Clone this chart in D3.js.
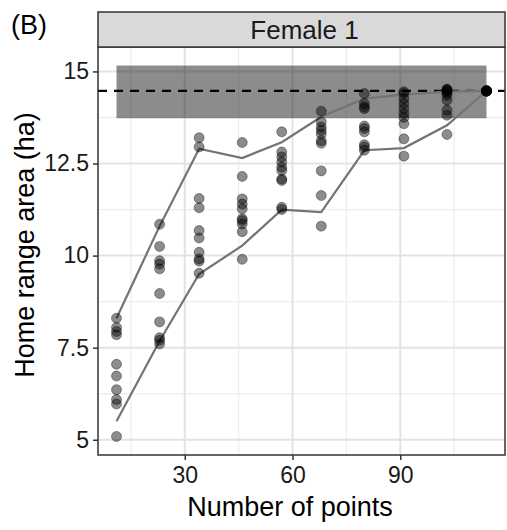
<!DOCTYPE html>
<html>
<head>
<meta charset="utf-8">
<script src="https://cdn.jsdelivr.net/npm/d3@7"></script>
<style>
  body { margin: 0; background: #fff; }
  svg { font-family: "Liberation Sans", Arial, sans-serif; }
</style>
</head>
<body>
<svg id="chart" width="507" height="530"></svg>
<script>
// sample sizes (number of points) along x
const sampleSizes = [11, 23, 34, 46, 57, 68, 80, 91, 103, 114]

// home range estimates, 10 resamples per sample size
const col11 = [8.3, 8.05, 7.94, 7.85, 7.05, 6.73, 6.36, 6.09, 5.97, 5.09]
const col23 = [10.85, 10.25, 9.86, 9.77, 9.64, 8.97, 8.2, 7.77, 7.7, 7.6]
const col34 = [13.2, 12.95, 11.55, 11.3, 10.68, 10.48, 10.09, 9.91, 9.85, 9.52]
const col46 = [13.07, 12.15, 11.54, 11.4, 11.27, 11.0, 10.95, 10.86, 10.65, 9.9]
const col57 = [13.36, 12.81, 12.68, 12.54, 12.4, 12.31, 12.08, 12.04, 11.31, 11.25]
const col68 = [13.92, 13.63, 13.49, 13.4, 13.3, 13.12, 13.05, 12.3, 11.63, 10.8]
const col80 = [14.4, 14.13, 14.04, 13.99, 13.52, 13.45, 13.36, 13.01, 12.95, 12.86]
const col91 = [14.45, 14.4, 14.26, 14.13, 13.99, 13.86, 13.75, 13.58, 13.17, 12.7]
const col103 = [14.52, 14.5, 14.48, 14.45, 14.42, 14.35, 14.22, 13.95, 13.81, 13.29]
const col114 = [14.47, 14.47, 14.47, 14.47, 14.47, 14.47, 14.47, 14.47, 14.47, 14.47]
const estimates = [col11, col23, col34, col46, col57, col68, col80, col91, col103, col114]

// envelope lines
const upperLine = [8.3, 10.8, 12.9, 12.65, 13.08, 13.77, 14.26, 14.37, 14.45, 14.47]
const lowerLine = [5.5, 7.68, 9.5, 10.27, 11.25, 11.18, 12.86, 12.92, 13.54, 14.47]

// full-data estimate and its band
const fullEstimate = 14.47
const bandLow = 13.73
const bandHigh = 15.16

const xTicks = [30, 60, 90]
const xMinor = [15, 45, 75, 105]
const yTicks = [5, 7.5, 10, 12.5, 15]
const yMinor = [6.25, 8.75, 11.25, 13.75]
const yTickLabels = ['5', '7.5', '10', '12.5', '15']

const panel = {left: 98, right: 505, top: 47, bottom: 455}
const strip = {top: 12, bottom: 47}

const svg = d3.select('#chart')

const xMin = d3.min(sampleSizes)
const xMax = d3.max(sampleSizes)
const xPad = (xMax - xMin) * 0.05
const x = d3.scaleLinear()
  .domain([xMin - xPad, xMax + xPad])
  .range([panel.left, panel.right])

const yLo = d3.min(estimates.flat())
const yHi = bandHigh
const yPad = (yHi - yLo) * 0.05
const y = d3.scaleLinear()
  .domain([yLo - yPad, yHi + yPad])
  .range([panel.bottom, panel.top])

// panel background
svg.append('rect')
  .attr('x', panel.left)
  .attr('y', panel.top)
  .attr('width', panel.right - panel.left)
  .attr('height', panel.bottom - panel.top)
  .attr('fill', '#fff')

// gridlines
const grid = svg.append('g')
grid.selectAll('.ymin').data(yMinor).enter().append('line')
  .attr('x1', panel.left).attr('x2', panel.right)
  .attr('y1', d => y(d)).attr('y2', d => y(d))
  .attr('stroke', '#eeeeee').attr('stroke-width', 1.3)
grid.selectAll('.xmin').data(xMinor).enter().append('line')
  .attr('y1', panel.top).attr('y2', panel.bottom)
  .attr('x1', d => x(d)).attr('x2', d => x(d))
  .attr('stroke', '#eeeeee').attr('stroke-width', 1.3)
grid.selectAll('.ymaj').data(yTicks).enter().append('line')
  .attr('x1', panel.left).attr('x2', panel.right)
  .attr('y1', d => y(d)).attr('y2', d => y(d))
  .attr('stroke', '#e3e3e3').attr('stroke-width', 2)
grid.selectAll('.xmaj').data(xTicks).enter().append('line')
  .attr('y1', panel.top).attr('y2', panel.bottom)
  .attr('x1', d => x(d)).attr('x2', d => x(d))
  .attr('stroke', '#e3e3e3').attr('stroke-width', 2)

// band around the full-data estimate
svg.append('rect')
  .attr('x', x(xMin))
  .attr('width', x(xMax) - x(xMin))
  .attr('y', y(bandHigh))
  .attr('height', y(bandLow) - y(bandHigh))
  .attr('fill', '#000')
  .attr('fill-opacity', 0.45)

// dashed reference line
svg.append('line')
  .attr('x1', panel.left).attr('x2', panel.right)
  .attr('y1', y(fullEstimate)).attr('y2', y(fullEstimate))
  .attr('stroke', '#000')
  .attr('stroke-width', 2.2)
  .attr('stroke-dasharray', '9,7')

// envelope lines
const line = d3.line()
  .x((d, i) => x(sampleSizes[i]))
  .y(d => y(d))

;[upperLine, lowerLine].forEach(arr => {
  svg.append('path')
    .attr('d', line(arr))
    .attr('fill', 'none')
    .attr('stroke', '#747474')
    .attr('stroke-width', 2.2)
})

// points
const pts = []
estimates.forEach((col, i) => {
  col.forEach(v => pts.push({n: sampleSizes[i], v: v}))
})

svg.append('g')
  .selectAll('circle')
  .data(pts)
  .enter()
  .append('circle')
  .attr('cx', d => x(d.n))
  .attr('cy', d => y(d.v))
  .attr('r', 5)
  .attr('fill', '#000')
  .attr('fill-opacity', 0.45)
  .attr('stroke', '#000')
  .attr('stroke-opacity', 0.35)
  .attr('stroke-width', 1)

// panel border
svg.append('rect')
  .attr('x', panel.left)
  .attr('y', panel.top)
  .attr('width', panel.right - panel.left)
  .attr('height', panel.bottom - panel.top)
  .attr('fill', 'none')
  .attr('stroke', '#333')
  .attr('stroke-width', 1.5)

// strip
svg.append('rect')
  .attr('x', panel.left)
  .attr('y', strip.top)
  .attr('width', panel.right - panel.left)
  .attr('height', strip.bottom - strip.top)
  .attr('fill', '#d9d9d9')
  .attr('stroke', '#333')
  .attr('stroke-width', 1.5)

svg.append('text')
  .attr('x', (panel.left + panel.right) / 2 + 3)
  .attr('y', (strip.top + strip.bottom) / 2 + 9)
  .attr('text-anchor', 'middle')
  .attr('font-size', 26)
  .attr('fill', '#1a1a1a')
  .text('Female 1')

// axes
const xAxis = d3.axisBottom(x)
  .tickValues(xTicks)
  .tickSize(5)
  .tickPadding(7)
const gx = svg.append('g')
  .attr('transform', `translate(0, ${panel.bottom})`)
  .call(xAxis)
gx.select('.domain').remove()
gx.selectAll('line').attr('stroke', '#333').attr('stroke-width', 1.5)
gx.selectAll('text').attr('font-size', 23).attr('fill', '#1a1a1a')
  .attr('font-family', '"Liberation Sans", Arial, sans-serif')

const yAxis = d3.axisLeft(y)
  .tickValues(yTicks)
  .tickFormat((d, i) => yTickLabels[i])
  .tickSize(5)
  .tickPadding(4)
const gy = svg.append('g')
  .attr('transform', `translate(${panel.left}, 0)`)
  .call(yAxis)
gy.select('.domain').remove()
gy.selectAll('line').attr('stroke', '#333').attr('stroke-width', 1.5)
gy.selectAll('text').attr('font-size', 23).attr('fill', '#1a1a1a')
  .attr('font-family', '"Liberation Sans", Arial, sans-serif')

// titles
svg.append('text')
  .attr('x', 290)
  .attr('y', 516)
  .attr('text-anchor', 'middle')
  .attr('font-size', 27)
  .attr('fill', '#000')
  .text('Number of points')

svg.append('text')
  .attr('transform', `translate(34, ${(panel.top + panel.bottom) / 2 - 6}) rotate(-90)`)
  .attr('text-anchor', 'middle')
  .attr('font-size', 27)
  .attr('fill', '#000')
  .text('Home range area (ha)')

svg.append('text')
  .attr('x', 11)
  .attr('y', 34)
  .attr('font-size', 27)
  .attr('fill', '#000')
  .text('(B)')
</script>
</body>
</html>
